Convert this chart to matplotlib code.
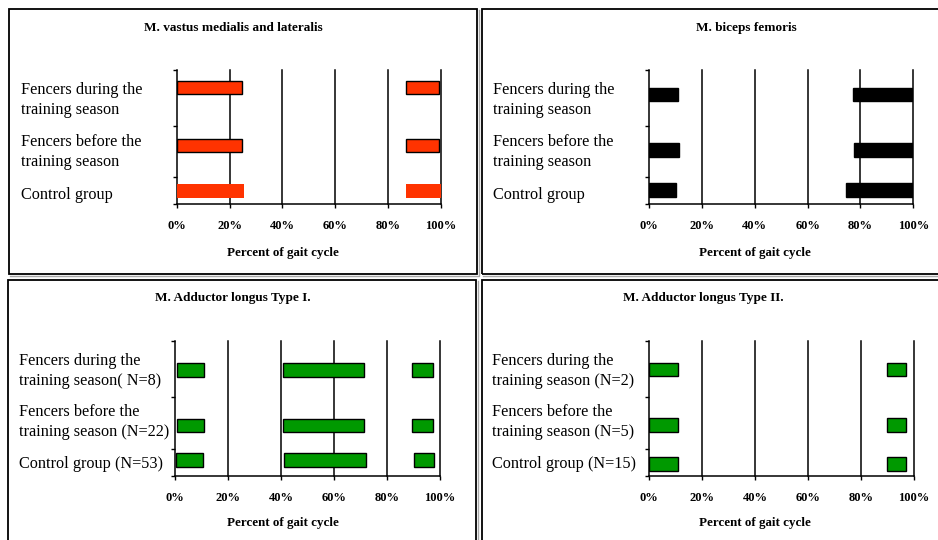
import matplotlib
matplotlib.use("Agg")
from matplotlib import pyplot as plt
from matplotlib.lines import Line2D
from matplotlib.patches import Rectangle

plt.rcParams['font.family'] = ['Liberation Serif', 'DejaVu Serif']

W, H = 938, 540

# --- data: (start %, end %) of activity intervals ---
groups_plain = ['Fencers during the\ntraining season',
                'Fencers before the\ntraining season',
                'Control group']
groups_type1 = ['Fencers during the\ntraining season( N=8)',
                'Fencers before the\ntraining season (N=22)',
                'Control group (N=53)']
groups_type2 = ['Fencers during the\ntraining season (N=2)',
                'Fencers before the\ntraining season (N=5)',
                'Control group (N=15)']

vastus_during = [(0, 24.6), (86.6, 99.4)]
vastus_before = [(0, 24.6), (86.6, 99.4)]
vastus_control = [(0, 25.6), (86.8, 100)]

biceps_during = [(0, 11.1), (77.1, 99.4)]
biceps_before = [(0, 11.5), (77.7, 100)]
biceps_control = [(0, 10.2), (74.4, 100)]

add1_during = [(0.9, 11.1), (40.6, 71.4), (89.3, 97.2)]
add1_before = [(0.9, 11.1), (40.6, 71.4), (89.3, 97.2)]
add1_control = [(0.4, 10.4), (41.3, 72.2), (90.2, 97.9)]

add2_during = [(0, 10.9), (89.7, 96.9)]
add2_before = [(0, 10.9), (89.7, 96.9)]
add2_control = [(0, 10.9), (89.7, 96.9)]

x_ticks = [0, 20, 40, 60, 80, 100]
x_ticklabels = ['0%', '20%', '40%', '60%', '80%', '100%']


def fx(x):
    return x / W


def fy(y):
    return 1 - y / H


fig = plt.figure(figsize=(W / 100, H / 100), dpi=100)

# panel frames, with a light grey shadow on the right and bottom
frames = [(9, 9, 477, 274), (482, 9, 945, 274), (8, 280, 476, 545), (482, 280, 945, 545)]
for x0, y0, x1, y1 in frames:
    fig.lines.append(Line2D([fx(x0 + 1), fx(x1 + 1.5), fx(x1 + 1.5)],
                            [fy(y1 + 1.5), fy(y1 + 1.5), fy(y0 + 1)],
                            transform=fig.transFigure, color='#a8a8a8', lw=1.0))
    fig.patches.append(Rectangle((fx(x0), fy(y1)), (x1 - x0) / W, (y1 - y0) / H,
                                 transform=fig.transFigure, fill=False, edgecolor='black', lw=1.3))

panels = [
    dict(title='M. vastus medialis and lateralis', box=(176.7, 70, 441, 204.3),
         labels=groups_plain, rows=[vastus_during, vastus_before, vastus_control],
         ypos=[0.871, 0.44, 0.099], color='#ff3300', edges=['black', 'black', 'none'],
         label_x=21, label_y=[100, 152, 195], title_x=233, title_y=28, xlab_x=283, xlab_y=253),
    dict(title='M. biceps femoris', box=(649, 70, 913.3, 204.3),
         labels=groups_plain, rows=[biceps_during, biceps_before, biceps_control],
         ypos=[0.819, 0.404, 0.106], color='black', edges=['black', 'black', 'black'],
         label_x=493, label_y=[100, 152, 195], title_x=746, title_y=28, xlab_x=755, xlab_y=253),
    dict(title='M. Adductor longus Type I.', box=(175, 340.7, 440, 475.7),
         labels=groups_type1, rows=[add1_during, add1_before, add1_control],
         ypos=[0.783, 0.37, 0.116], color='#009900', edges=['black', 'black', 'black'],
         label_x=19, label_y=[371, 422, 464], title_x=233, title_y=298, xlab_x=283, xlab_y=523),
    dict(title='M. Adductor longus Type II.', box=(649, 340.7, 914, 475.7),
         labels=groups_type2, rows=[add2_during, add2_before, add2_control],
         ypos=[0.788, 0.376, 0.087], color='#009900', edges=['black', 'black', 'black'],
         label_x=492, label_y=[371, 422, 464], title_x=703, title_y=298, xlab_x=755, xlab_y=523),
]

for p in panels:
    x0, y0, x1, y1 = p['box']
    ax = fig.add_axes([fx(x0), fy(y1), (x1 - x0) / W, (y1 - y0) / H])
    for row, yc, ec in zip(p['rows'], p['ypos'], p['edges']):
        starts = [s for s, e in row]
        widths = [e - s for s, e in row]
        ax.barh([yc] * len(row), widths, left=starts, height=0.099,
                color=p['color'], edgecolor=ec, linewidth=1.0, zorder=3)
    for gx in x_ticks[1:]:
        ax.axvline(gx, color='black', lw=1.1, zorder=1, clip_on=False)
    ax.set_xlim(0, 100)
    ax.set_ylim(0, 1)
    ax.set_xticks(x_ticks)
    ax.set_xticklabels(x_ticklabels, fontsize=9, fontweight='bold')
    ax.set_yticks([0, 0.2, 0.58, 1])
    ax.set_yticklabels([])
    ax.tick_params(axis='x', length=3, width=1, pad=8.5)
    ax.tick_params(axis='y', length=3, width=1)
    for side in ['top', 'right']:
        ax.spines[side].set_visible(False)
    for side in ['left', 'bottom']:
        ax.spines[side].set_linewidth(1.1)

    fig.text(fx(p['title_x']), fy(p['title_y']), p['title'], fontsize=9.5,
             fontweight='bold', ha='center', va='center')
    fig.text(fx(p['xlab_x']), fy(p['xlab_y']), 'Percent of gait cycle', fontsize=9.4,
             fontweight='bold', ha='center', va='center')
    for lab, ly in zip(p['labels'], p['label_y']):
        fig.text(fx(p['label_x']), fy(ly), lab, fontsize=11.7, ha='left', va='center',
                 linespacing=1.35)

fig.savefig('out.png', dpi=100)
